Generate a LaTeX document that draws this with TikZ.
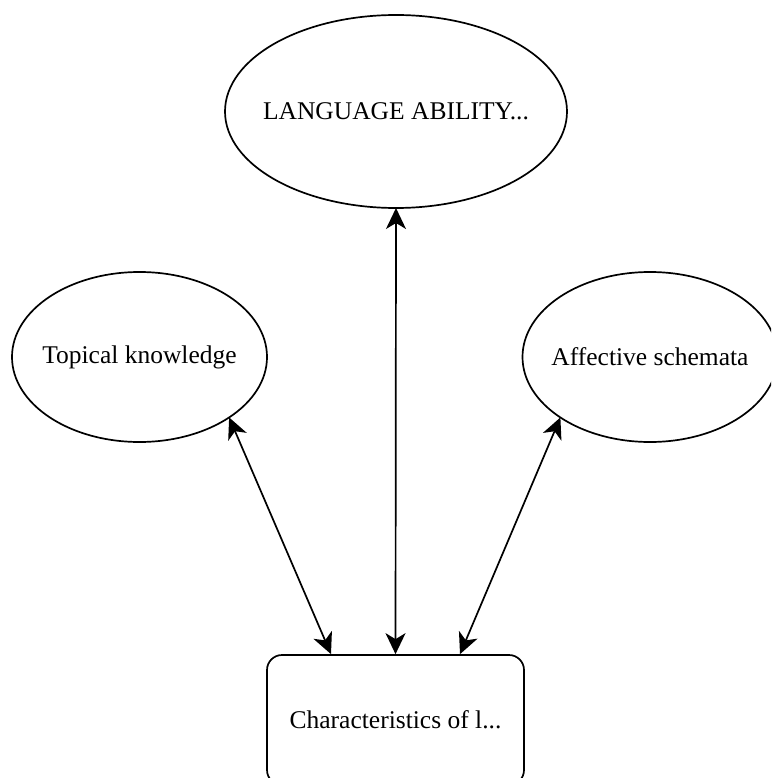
\documentclass[tikz,border=0pt]{standalone}
\usepackage{fontspec}
\setmainfont{Liberation Serif}
\usetikzlibrary{shapes.geometric,arrows.meta}

\begin{document}
\begin{tikzpicture}[x=1pt,y=-1pt,
  every node/.style={font=\fontsize{25.5}{30}\selectfont, text=black},
  oval/.style={ellipse, draw=black, line width=1.7pt, inner sep=0pt, outer sep=0pt, fill=white},
  card/.style={rectangle, rounded corners=15pt, draw=black, line width=1.7pt, inner sep=0pt,
    minimum width=257pt, minimum height=130pt},
  link/.style={line width=1.7pt, {Stealth[length=21pt,width=20pt,inset=6pt]}-{Stealth[length=21pt,width=20pt,inset=6pt]}}
]
  \useasboundingbox (0,0) rectangle (771,778);
  \begin{scope}
    \clip (0,0) rectangle (771,778);

    % the three ellipses; the label is boxed at zero width so the size is set by the minimum dimensions
    \node[oval, minimum width=342pt, minimum height=193pt] (ability) at (396,111.5) {\makebox[0pt]{LANGUAGE ABILITY...}};
    \node[oval, minimum width=255pt, minimum height=170pt] (topical) at (139.5,357) {\makebox[0pt]{Topical knowledge}};
    \node[oval, minimum width=255pt, minimum height=170pt] (affective) at (650,357) {\makebox[0pt]{Affective schemata}};

    % the task box at the bottom
    \node[card] (task) at (395.5,720) {Characteristics of l...};

    % two-headed connectors
    \draw[link] (ability.south) -- (task.north);
    \draw[link] (topical.-34) -- ([xshift=-64.5pt]task.north);
    \draw[link] (affective.214) -- ([xshift=64.5pt]task.north);
  \end{scope}
\end{tikzpicture}
\end{document}
